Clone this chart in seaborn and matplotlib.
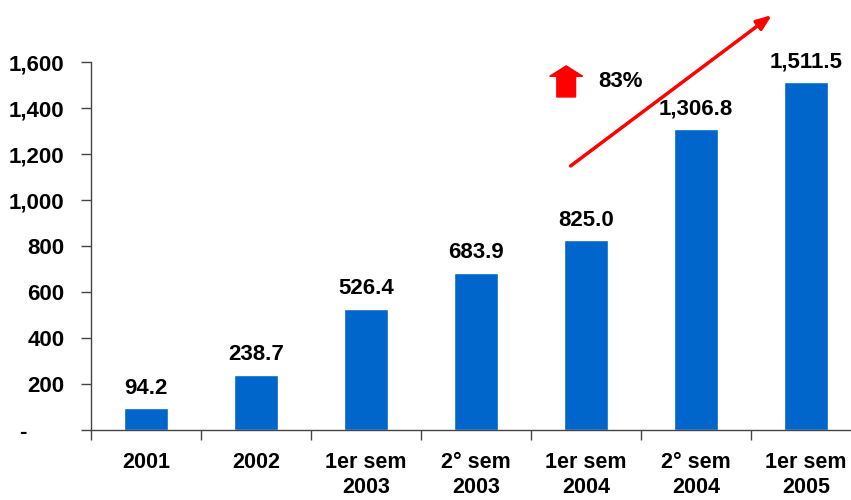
import matplotlib
matplotlib.use('Agg')
import matplotlib.pyplot as plt
import matplotlib.ticker as mticker
from matplotlib.patches import FancyArrow
import seaborn as sns
import pandas as pd

# chart values
periods = ['2001', '2002', '1er sem\n2003', '2° sem\n2003', '1er sem\n2004', '2° sem\n2004', '1er sem\n2005']
values = [94.2, 238.7, 526.4, 683.9, 825.0, 1306.8, 1511.5]
growth_label = '83%'

df = pd.DataFrame({'Periodo': periods, 'Valor': values})

sns.set_style('white')
plt.rcParams['font.family'] = ['Liberation Sans', 'DejaVu Sans']
plt.rcParams['font.weight'] = 'bold'
plt.rcParams['text.color'] = 'black'
plt.rcParams['xtick.color'] = 'black'
plt.rcParams['ytick.color'] = 'black'

fig = plt.figure(figsize=(8.51, 5.0), dpi=100)
ax = fig.add_axes([91 / 851, 1 - 430 / 500, 770 / 851, 368 / 500])

sns.barplot(data=df, x='Periodo', y='Valor', color='#0066CC', width=0.4,
            saturation=1, ax=ax)

ax.set_xlim(-0.5, len(periods) - 0.5)
ax.set_ylim(0, 1600)
ax.set_xlabel('')
ax.set_ylabel('')

# value labels on top of the bars
for i, v in enumerate(values):
    ax.annotate(f'{v:,.1f}', xy=(i, v), xytext=(0, 7), textcoords='offset points',
                ha='center', va='bottom', fontsize=16, fontweight='bold',
                color='black', annotation_clip=False)

# spines and ticks
sns.despine(ax=ax, top=True, right=True)
for s in ['left', 'bottom']:
    ax.spines[s].set_color('#444444')
    ax.spines[s].set_linewidth(1.0)

ax.yaxis.set_major_locator(mticker.MultipleLocator(200))
ax.yaxis.set_major_formatter(mticker.FuncFormatter(lambda v, p: '-      ' if v == 0 else f'{v:,.0f}'))
ax.tick_params(axis='y', which='major', left=True, direction='out', length=7,
               width=1, color='#444444', labelcolor='black', pad=12, labelsize=16)

ax.set_xticks(range(len(periods)))
ax.set_xticklabels(periods, fontsize=15.5, fontweight='bold', linespacing=1.25)
ax.xaxis.set_minor_locator(mticker.FixedLocator([i - 0.5 for i in range(len(periods) + 1)]))
ax.tick_params(axis='x', which='major', bottom=False, length=0, pad=16, labelcolor='black')
ax.tick_params(axis='x', which='minor', bottom=True, direction='out', length=7,
               width=1, color='#444444')
for lbl in ax.get_yticklabels():
    lbl.set_fontweight('bold')

# growth arrow
ax.annotate('', xy=(5.69, 1804), xytext=(3.86, 1148),
            arrowprops=dict(arrowstyle='-|>,head_length=0.9,head_width=0.35',
                            color='#FF0000', lw=2.5, shrinkA=0, shrinkB=0),
            annotation_clip=False)

# small block arrow and growth label
block = FancyArrow(3.82, 1448, 0, 135, width=0.17, head_width=0.3,
                   head_length=45, length_includes_head=True,
                   color='#FF0000', clip_on=False)
ax.add_patch(block)
ax.text(4.31, 1517, growth_label, ha='center', va='center', fontsize=16,
        fontweight='bold', color='black', clip_on=False)

fig.savefig('out.png', dpi=100)
